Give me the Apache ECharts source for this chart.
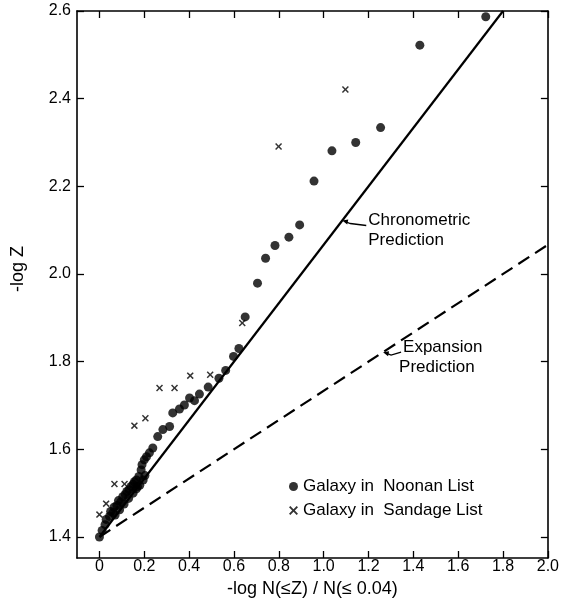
<!DOCTYPE html>
<html><head><meta charset="utf-8">
<script src="https://cdn.jsdelivr.net/npm/echarts@6/dist/echarts.min.js"></script>
<style>html,body{margin:0;padding:0;background:#fff}#c{width:562px;height:608px}</style>
</head><body><div id="c"></div>
<script>
// ---- data ----
const xTicks = [0, 0.2, 0.4, 0.6, 0.8, 1.0, 1.2, 1.4, 1.6, 1.8, 2.0];
const yTicks = [1.4, 1.6, 1.8, 2.0, 2.2, 2.4, 2.6];

const noonanX = [0.000,0.012,0.025,0.030,0.045,0.050,0.060,0.065,0.070,0.078,0.085,0.090,0.095,0.104,0.110,0.115,0.122,0.130,0.132,0.141,0.150,0.150,0.156,0.165,0.165,0.170,0.176,0.180,0.186,0.190,0.195,0.200,0.203,0.210,0.223,0.238,0.260,0.283,0.313,0.327,0.357,0.379,0.402,0.424,0.446,0.485,0.533,0.563,0.598,0.622,0.650,0.705,0.741,0.783,0.845,0.893,0.957,1.037,1.143,1.254,1.429,1.723];
const noonanY = [1.400,1.415,1.428,1.440,1.447,1.458,1.455,1.468,1.450,1.472,1.483,1.462,1.480,1.492,1.475,1.497,1.504,1.488,1.508,1.515,1.500,1.520,1.526,1.530,1.510,1.515,1.538,1.518,1.553,1.565,1.530,1.576,1.540,1.583,1.592,1.603,1.629,1.645,1.652,1.683,1.692,1.701,1.717,1.711,1.726,1.742,1.762,1.780,1.812,1.830,1.902,1.979,2.036,2.065,2.084,2.112,2.212,2.281,2.300,2.334,2.522,2.587];

const sandageX = [0.000,0.030,0.067,0.112,0.156,0.205,0.268,0.335,0.405,0.494,0.637,0.799,1.097];
const sandageY = [1.451,1.476,1.521,1.521,1.654,1.671,1.740,1.740,1.768,1.770,1.888,2.291,2.421];

const chronoX = [0, 1.8];
const chronoY = [1.4, 2.6];
const expansionX = [0, 2.0];
const expansionY = [1.4, 2.0667];

const seriesNames = ['Galaxy in  Noonan List', 'Galaxy in  Sandage List'];
const labelChrono = ['Chronometric', 'Prediction'];
const labelExpansion = ['Expansion', 'Prediction'];

// ---- chart ----
const FONT = '"Liberation Sans", Arial, sans-serif';
const zip = (a, b) => a.map((v, i) => [v, b[i]]);
const crossPath = 'path://M0,1.5L1.5,0L5,3.5L8.5,0L10,1.5L6.5,5L10,8.5L8.5,10L5,6.5L1.5,10L0,8.5L3.5,5Z';

const chart = echarts.init(document.getElementById('c'), null, {renderer: 'canvas'});

const baseX = {
  type: 'value', min: -0.1, max: 2.0,
  splitLine: {show: false},
  axisLine: {show: true, onZero: false, lineStyle: {color: '#000', width: 1.6}},
  axisTick: {show: true, inside: true, length: 7, lineStyle: {color: '#000', width: 1.3}, customValues: xTicks},
};
const baseY = {
  type: 'value', min: 1.352, max: 2.6,
  splitLine: {show: false},
  axisLine: {show: true, onZero: false, lineStyle: {color: '#000', width: 1.6}},
  axisTick: {show: true, inside: true, length: 7, lineStyle: {color: '#000', width: 1.3}, customValues: yTicks},
};

chart.setOption({
  animation: false,
  backgroundColor: '#fff',
  grid: {left: 77, right: 14, top: 11, bottom: 50, containLabel: false},
  xAxis: [
    Object.assign({}, baseX, {
      position: 'bottom',
      name: '-log N(\u2264Z) / N(\u2264 0.04)', nameLocation: 'middle', nameGap: 22,
      nameTextStyle: {fontFamily: FONT, fontSize: 18, color: '#000'},
      axisLabel: {show: true, margin: 1, customValues: xTicks, fontFamily: FONT, fontSize: 16, color: '#000',
        formatter: v => (Math.abs(v) < 1e-9 ? '0' : v.toFixed(1))}
    }),
    Object.assign({}, baseX, {position: 'top', axisLabel: {show: false}})
  ],
  yAxis: [
    Object.assign({}, baseY, {
      position: 'left',
      axisLabel: {show: true, margin: 6, customValues: yTicks, fontFamily: FONT, fontSize: 16, color: '#000',
        formatter: v => v.toFixed(1)}
    }),
    Object.assign({}, baseY, {position: 'right', axisLabel: {show: false}})
  ],
  legend: {
    orient: 'vertical', left: 289, top: 478, padding: 0, itemGap: 7,
    itemWidth: 9, itemHeight: 9,
    textStyle: {fontFamily: FONT, fontSize: 17, color: '#000'},
    data: [{name: seriesNames[0], icon: 'circle'}, {name: seriesNames[1], icon: crossPath}],
    selectedMode: false
  },
  series: [
    {type: 'line', data: zip(chronoX, chronoY), showSymbol: false, symbol: 'none', silent: true,
     lineStyle: {color: '#000', width: 2.2}, z: 1},
    {type: 'line', data: zip(expansionX, expansionY), showSymbol: false, symbol: 'none', silent: true,
     lineStyle: {color: '#000', width: 2.2, type: [13, 7]}, z: 1},
    {name: seriesNames[0], type: 'scatter', data: zip(noonanX, noonanY), symbol: 'circle', symbolSize: 9,
     itemStyle: {color: '#000'}, z: 3},
    {name: seriesNames[1], type: 'scatter', data: zip(sandageX, sandageY), symbol: crossPath, symbolSize: 7,
     itemStyle: {color: '#000'}, z: 3}
  ]
});

// ---- annotations anchored to data coordinates ----
function annot(tipX, slope, x0, y0, lines, dxTail, dyTail, textDx, lineDx2) {
  const tip = chart.convertToPixel({gridIndex: 0}, [tipX, y0 + slope * (tipX - x0)]);
  const tail = [tip[0] + dxTail, tip[1] + dyTail];
  return [
    {type: 'polyline', shape: {points: [[tail[0], tail[1]], [tip[0] + 8, tip[1] + 3], [tip[0] + 3, tip[1] + 1]]},
     style: {stroke: '#000', lineWidth: 1.3, fill: null}},
    {type: 'polygon', shape: {points: [[tip[0], tip[1]], [tip[0] + 6, tip[1] - 1], [tip[0] + 5, tip[1] + 4]]},
     style: {fill: '#000'}},
    {type: 'text', x: tail[0] + textDx, y: tail[1] - 5,
     style: {text: lines[0], font: '17px ' + FONT, fill: '#000', textAlign: 'left', textVerticalAlign: 'middle'}},
    {type: 'text', x: tail[0] + textDx + lineDx2, y: tail[1] + 15,
     style: {text: lines[1], font: '17px ' + FONT, fill: '#000', textAlign: 'left', textVerticalAlign: 'middle'}}
  ];
}
const yTitlePos = [18, 269];
const g = [].concat(
  annot(1.083, (chronoY[1] - chronoY[0]) / (chronoX[1] - chronoX[0]), chronoX[0], chronoY[0], labelChrono, 24, 5, 2, 0),
  annot(1.265, (expansionY[1] - expansionY[0]) / (expansionX[1] - expansionX[0]), expansionX[0], expansionY[0], labelExpansion, 18, 0, 2, -4),
  [{type: 'text', x: yTitlePos[0], y: yTitlePos[1], rotation: Math.PI / 2,
    style: {text: '-log Z', font: '18px ' + FONT, fill: '#000', textAlign: 'center', textVerticalAlign: 'middle'}}]
);
chart.setOption({graphic: {elements: g}});
</script>
</body></html>
